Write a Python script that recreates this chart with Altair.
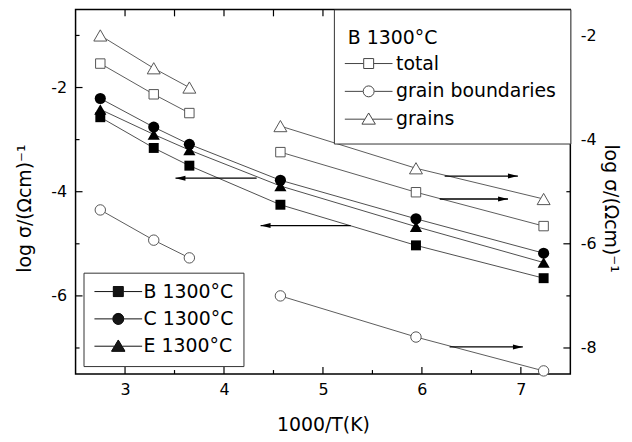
import math
import altair as alt
import pandas as pd

# ---------------- data ----------------
x_vals = [2.75, 3.29, 3.65, 4.57, 5.94, 7.23]          # 1000/T(K)

# left axis (filled symbols)
B_vals = [-2.57, -3.16, -3.50, -4.25, -5.03, -5.66]
C_vals = [-2.21, -2.76, -3.09, -3.78, -4.52, -5.18]
E_vals = [-2.42, -2.90, -3.20, -3.89, -4.67, -5.36]

# right axis (open symbols, sample B 1300°C)
total_vals = [-2.54, -3.13, -3.49, -4.24, -5.01, -5.66]
gb_vals = [-5.35, -5.93, -6.27, -7.00, -7.79, -8.44]
grains_vals = [-2.00, -2.63, -3.00, -3.74, -4.55, -5.14]
open_segment = [0, 0, 0, 1, 1, 1]

filled_labels = ["B 1300°C", "C 1300°C", "E 1300°C"]
open_labels = ["total", "grain boundaries", "grains"]
open_title = "B 1300°C"

# arrows (which axis a group of curves belongs to)
arrow_left_y = [-3.74, -4.65]
arrow_left_from = [4.33, 5.28]
arrow_left_to = [3.51, 4.37]
arrow_right_y = [-4.70, -5.14, -7.98]
arrow_right_from = [6.23, 6.18, 6.28]
arrow_right_to = [6.97, 6.87, 7.02]

# axes
x_domain = [2.5, 7.5]
left_domain = [-7.5, -0.5]
right_domain = [-8.5, -1.5]
x_labels = [3, 4, 5, 6, 7]
x_minor = [3.5, 4.5, 5.5, 6.5]
x_top = [3, 3.5, 4, 4.5, 5, 5.5, 6, 6.5, 7]
left_labels = [-2, -4, -6]
left_minor = [-1, -3, -5, -7]
right_labels = [-2, -4, -6, -8]
right_minor = [-3, -5, -7]

# ---------------- tables ----------------
filled_df = pd.DataFrame({
    "x": x_vals * 3,
    "y": B_vals + C_vals + E_vals,
    "series": [filled_labels[0]] * 6 + [filled_labels[1]] * 6 + [filled_labels[2]] * 6,
})
open_df = pd.DataFrame({
    "x": x_vals * 3,
    "y": total_vals + gb_vals + grains_vals,
    "series": [open_labels[0]] * 6 + [open_labels[1]] * 6 + [open_labels[2]] * 6,
    "seg": open_segment * 3,
})
arrL = pd.DataFrame({"x": arrow_left_from, "x2": arrow_left_to, "y": arrow_left_y})
arrL_tip = pd.DataFrame({"x": arrow_left_to, "y": arrow_left_y})
arrR = pd.DataFrame({"x": arrow_right_from, "x2": arrow_right_to, "y": arrow_right_y})
arrR_tip = pd.DataFrame({"x": arrow_right_to, "y": arrow_right_y})

W, H = 498, 367
F = "DejaVu Sans"
TL = 7   # major tick length
TS = 4   # minor tick length

xs = alt.Scale(domain=x_domain, nice=False, zero=False)
ysL = alt.Scale(domain=left_domain, nice=False, zero=False)
ysR = alt.Scale(domain=right_domain, nice=False, zero=False)

x_axis = alt.Axis(
    orient="bottom", values=x_labels, labelExpr="'' + datum.value", ticks=False, tickSize=0,
    domain=False, grid=False,
    labelFont=F, labelFontSize=16, labelColor="black", labelPadding=8,
    title="1000/T(K)", titleFont=F, titleFontSize=19, titleFontWeight="normal",
    titleColor="black", titlePadding=18)
yl_axis = alt.Axis(
    orient="left", values=left_labels, labelExpr="'' + datum.value", ticks=False, tickSize=0,
    domain=False, grid=False, labelFont=F, labelFontSize=16, labelColor="black", labelPadding=9,
    title="log σ/(Ωcm)⁻¹", titleFont=F, titleFontSize=19, titleFontWeight="normal",
    titleColor="black", titlePadding=16, titleY=200)
yr_axis = alt.Axis(
    orient="right", values=right_labels, labelExpr="'' + datum.value", ticks=False, tickSize=0,
    domain=False, grid=False, labelFont=F, labelFontSize=16, labelColor="black", labelPadding=10,
    title="log σ/(Ωcm)⁻¹", titleFont=F, titleFontSize=19, titleFontWeight="normal",
    titleColor="black", titlePadding=4, titleY=200)

X = alt.X("x:Q", scale=xs, axis=x_axis)
YL = alt.Y("y:Q", scale=ysL, axis=yl_axis)
YR = alt.Y("y:Q", scale=ysR, axis=yr_axis)

# ---------------- legend symbol shapes (line with marker in the middle) ----------------
STUBS = "M-4.8,0H-1.05M1.05,0H4.8"

def f(v):
    return f"{v:.3f}"

def solid(halfwidth, y0, y1, step=0.1):
    """horizontal strokes packed closely, so a stroked symbol looks filled"""
    parts = []
    n = int(round((y1 - y0) / step))
    for i in range(n + 1):
        y = y0 + (y1 - y0) * i / n
        hw = halfwidth(y)
        if hw > 0:
            parts.append(f"M{f(-hw)},{f(y)}H{f(hw)}")
    return "".join(parts)

sq_outline = "M-1,-1H1V1H-1Z"
ci_outline = "M1.1,0A1.1,1.1,0,1,1,-1.1,0A1.1,1.1,0,1,1,1.1,0Z"
tr_outline = "M0,-1.25L1.35,1H-1.35Z"

sq_open = STUBS + sq_outline
ci_open = "M-4.8,0H-1.15M1.15,0H4.8" + ci_outline
tr_open = "M-4.8,0H-0.8M0.8,0H4.8" + tr_outline

sq_full = sq_open + solid(lambda y: 1.0, -1.0, 1.0)
ci_full = ci_open + solid(lambda y: math.sqrt(max(1.21 - y * y, 0)), -1.08, 1.08)
tr_full = tr_open + solid(lambda y: 1.35 * (y + 1.25) / 2.25, -1.2, 1.0)

head_left = "M0,0L2,-0.5L2,0.5Z"
head_right = "M0,0L-2,-0.5L-2,0.5Z"

# ---------------- left group (filled symbols, left axis) ----------------
lines_f = alt.Chart(filled_df).mark_line(color="#222", strokeWidth=0.8).encode(
    x=X, y=YL, detail="series:N")

def filled_pts(label, shape, size):
    return alt.Chart(filled_df).transform_filter(alt.datum.series == label).mark_point(
        shape=shape, filled=True, color="black", size=size, opacity=1).encode(x=X, y=YL)

ptsB = filled_pts(filled_labels[0], "square", 100)
ptsC = filled_pts(filled_labels[1], "circle", 125)
ptsE = filled_pts(filled_labels[2], "triangle-up", 150)

arrL_rule = alt.Chart(arrL).mark_rule(color="black", strokeWidth=1.3).encode(
    x=X, x2="x2:Q", y=YL)
arrL_head = alt.Chart(arrL_tip).mark_point(shape=head_left, filled=True, color="black",
                                           size=100, opacity=1, strokeWidth=0).encode(x=X, y=YL)

def vticks(vals, y1, y2):
    return alt.Chart(pd.DataFrame({"x": vals})).mark_rule(color="black", strokeWidth=1.2).encode(
        x=X, y=alt.value(y1), y2=alt.value(y2))

tick_bottom_major = vticks(x_labels, H, H - TL)
tick_bottom_minor = vticks(x_minor, H, H - TS)
tick_top = vticks(x_top, 0, TL)

def hticks(vals, Y, x1, x2):
    return alt.Chart(pd.DataFrame({"y": vals})).mark_rule(color="black", strokeWidth=1.2).encode(
        y=Y, x=alt.value(x1), x2=alt.value(x2))

tick_left_major = hticks(left_labels, YL, 0, TL)
tick_left_minor = hticks(left_minor, YL, 0, TS)

leg_f = alt.Chart(pd.DataFrame({"lab": filled_labels})).transform_filter("false").mark_point(
    filled=False, color="#111", strokeWidth=1, opacity=1).encode(
    shape=alt.Shape("lab:N", scale=alt.Scale(domain=filled_labels, range=[sq_full, ci_full, tr_full]),
                    legend=alt.Legend(
                        title=None, orient="bottom-left", offset=8, padding=9.5,
                        strokeColor="#333", fillColor="white",
                        labelFont=F, labelFontSize=19, labelColor="black", labelLimit=400,
                        symbolSize=100, symbolStrokeWidth=1, symbolStrokeColor="#111",
                        symbolOffset=16, labelOffset=16,
                        rowPadding=7.5)))

left_group = alt.layer(lines_f, ptsB, ptsC, ptsE, arrL_rule, arrL_head,
                       tick_bottom_major, tick_bottom_minor, tick_top,
                       tick_left_major, tick_left_minor, leg_f)

# ---------------- right group (open symbols, right axis) ----------------
lines_o = alt.Chart(open_df).mark_line(color="#333", strokeWidth=0.8).encode(
    x=X, y=YR, detail=["series:N", "seg:N"])

def open_pts(label, shape, size):
    return alt.Chart(open_df).transform_filter(alt.datum.series == label).mark_point(
        shape=shape, filled=True, fill="white", stroke="#555", strokeWidth=1, size=size,
        opacity=1).encode(x=X, y=YR)

ptsT = open_pts(open_labels[0], "square", 90)
ptsG = open_pts(open_labels[1], "circle", 110)
ptsR = open_pts(open_labels[2], "triangle-up", 170)

arrR_rule = alt.Chart(arrR).mark_rule(color="black", strokeWidth=1.3).encode(
    x=X, x2="x2:Q", y=YR)
arrR_head = alt.Chart(arrR_tip).mark_point(shape=head_right, filled=True, color="black",
                                           size=100, opacity=1, strokeWidth=0).encode(x=X, y=YR)

tick_right_major = hticks(right_labels, YR, W, W - TL)
tick_right_minor = hticks(right_minor, YR, W, W - TS)

leg_o = alt.Chart(pd.DataFrame({"lab": open_labels})).transform_filter("false").mark_point(
    filled=False, color="#444", opacity=1).encode(
    shape=alt.Shape("lab:N", scale=alt.Scale(domain=open_labels, range=[sq_open, ci_open, tr_open]),
                    legend=alt.Legend(
                        title=open_title, orient="top-right", offset=0, padding=14,
                        strokeColor="#333", fillColor="white",
                        titleFont=F, titleFontSize=19, titleFontWeight="normal", titleColor="black",
                        titleBaseline="line-top", titleLineHeight=30, titlePadding=12,
                        labelFont=F, labelFontSize=19, labelColor="black", labelLimit=400,
                        symbolSize=100, symbolStrokeWidth=1, symbolStrokeColor="#444",
                        symbolOffset=11.5, labelOffset=18,
                        rowPadding=8)))

right_group = alt.layer(lines_o, ptsT, ptsG, ptsR, arrR_rule, arrR_head,
                        tick_right_major, tick_right_minor, leg_o)

chart = alt.layer(left_group, right_group).resolve_scale(
    y="independent", shape="independent"
).properties(
    width=W, height=H,
    autosize=alt.AutoSizeParams(type="none"),
    padding={"left": 68, "top": 0, "right": 54, "bottom": 66},
).configure_view(stroke="black", strokeWidth=1.5)

chart.save("out.html", embed_options={"renderer": "svg", "actions": False})
